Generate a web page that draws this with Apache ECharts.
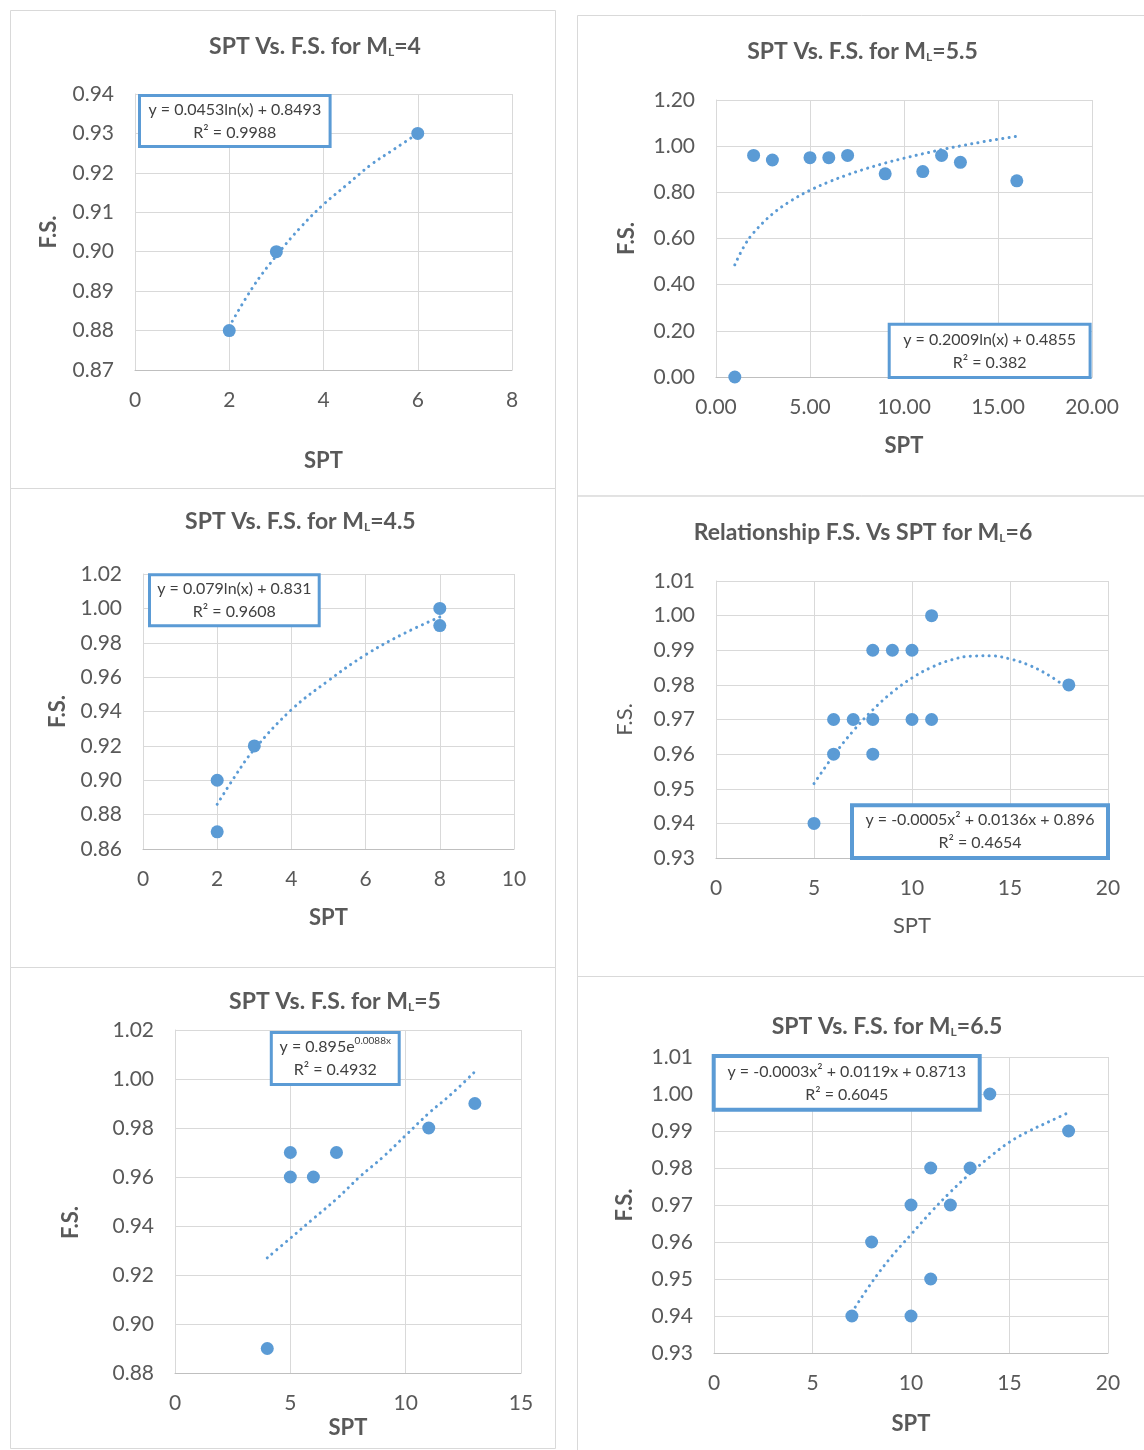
<!DOCTYPE html>
<html><head><meta charset="utf-8">
<script src="https://cdn.jsdelivr.net/npm/echarts@6/dist/echarts.min.js"></script>
<style>html,body{margin:0;padding:0;background:#fff}#c{width:1144px;height:1450px}</style>
</head><body><div id="c"></div>
<script>
// ---------- DATA ----------
const ml4SPT = [2, 3, 6];
const ml4FS  = [0.88, 0.90, 0.93];
const ml4TrendSPT = [2, 2.5, 3, 3.5, 4, 4.5, 5, 5.5, 6];
const ml4TrendFS  = [0.881, 0.891, 0.899, 0.906, 0.912, 0.917, 0.922, 0.926, 0.930];

const ml55SPT = [1, 2, 3, 5, 6, 7, 9, 11, 12, 13, 16];
const ml55FS  = [0.00, 0.96, 0.94, 0.95, 0.95, 0.96, 0.88, 0.89, 0.96, 0.93, 0.85];
const ml55TrendSPT = [1, 1.5, 2, 3, 4, 5, 6, 7, 8, 9, 10, 11, 12, 13, 14, 15, 16];
const ml55TrendFS  = [0.486, 0.567, 0.625, 0.706, 0.764, 0.809, 0.845, 0.876, 0.903, 0.927, 0.948, 0.967, 0.985, 1.001, 1.016, 1.030, 1.043];

const ml45SPT = [2, 2, 3, 8, 8];
const ml45FS  = [0.90, 0.87, 0.92, 1.00, 0.99];
const ml45TrendSPT = [2, 2.5, 3, 4, 5, 6, 7, 8];
const ml45TrendFS  = [0.886, 0.903, 0.918, 0.941, 0.958, 0.973, 0.985, 0.995];

const ml6SPT = [5, 6, 6, 7, 8, 8, 8, 9, 10, 10, 11, 11, 18];
const ml6FS  = [0.94, 0.97, 0.96, 0.97, 0.99, 0.97, 0.96, 0.99, 0.99, 0.97, 1.00, 0.97, 0.98];
const ml6TrendSPT = [5, 6, 7, 8, 9, 10, 11, 12, 13, 14, 15, 16, 17, 18];
const ml6TrendFS  = [0.9515, 0.9596, 0.9667, 0.9728, 0.9779, 0.9820, 0.9851, 0.9872, 0.9883, 0.9884, 0.9875, 0.9856, 0.9827, 0.9788];

const ml5SPT = [4, 5, 5, 6, 7, 11, 13];
const ml5FS  = [0.89, 0.97, 0.96, 0.96, 0.97, 0.98, 0.99];
const ml5TrendSPT = [4, 5, 6, 7, 8, 9, 10, 11, 12, 13];
const ml5TrendFS  = [0.927, 0.935, 0.943, 0.951, 0.960, 0.968, 0.977, 0.986, 0.994, 1.003];

const ml65SPT = [7, 8, 10, 10, 11, 11, 12, 13, 14, 18];
const ml65FS  = [0.94, 0.96, 0.97, 0.94, 0.98, 0.95, 0.97, 0.98, 1.00, 0.99];
const ml65TrendSPT = [7, 8, 9, 10, 11, 12, 13, 14, 15, 16, 17, 18];
const ml65TrendFS  = [0.941, 0.949, 0.956, 0.962, 0.968, 0.9735, 0.9785, 0.983, 0.987, 0.990, 0.9925, 0.995];

const titles = [
  'SPT Vs. F.S. for M{s|L}=4',
  'SPT Vs. F.S. for M{s|L}=5.5',
  'SPT Vs. F.S. for M{s|L}=4.5',
  'Relationship F.S. Vs SPT for M{s|L}=6',
  'SPT Vs. F.S. for M{s|L}=5',
  'SPT Vs. F.S. for M{s|L}=6.5'
];
const equations = [
  'y = 0.0453ln(x) + 0.8493\nR² = 0.9988',
  'y = 0.2009ln(x) + 0.4855\nR² = 0.382',
  'y = 0.079ln(x) + 0.831\nR² = 0.9608',
  'y = -0.0005x² + 0.0136x + 0.896\nR² = 0.4654',
  'y = 0.895e{p|0.0088x}\nR² = 0.4932',
  'y = -0.0003x² + 0.0119x + 0.8713\nR² = 0.6045'
];

// ---------- LAYOUT ----------
const FONT = 'Lato';
const BLUE = '#5B9BD5';
const GREY = '#595959';
const panels = [
  {spt: ml4SPT, fs: ml4FS, tx: ml4TrendSPT, ty: ml4TrendFS,
   g: [135, 94, 377, 276], x: [0, 8, 2, 0], y: [0.87, 0.94, 0.01, 2], xg: 80, yg: 75, bold: true,
   box: [139.5, 95.5, 190.6, 51, 3], tc: [315, 47]},
  {spt: ml55SPT, fs: ml55FS, tx: ml55TrendSPT, ty: ml55TrendFS,
   g: [716, 100, 376, 277], x: [0, 20, 5, 2], y: [0, 1.2, 0.2, 2], xg: 58, yg: 78, bold: true,
   box: [889.2, 324.2, 200.9, 53.3, 3], tc: [862.5, 51.7]},
  {spt: ml45SPT, fs: ml45FS, tx: ml45TrendSPT, ty: ml45TrendFS,
   g: [143, 574, 371, 275], x: [0, 10, 2, 0], y: [0.86, 1.02, 0.02, 2], xg: 58, yg: 74, bold: true,
   box: [149.5, 574.8, 169.7, 51, 3], tc: [300.4, 521.7]},
  {spt: ml6SPT, fs: ml6FS, tx: ml6TrendSPT, ty: ml6TrendFS,
   g: [716, 581, 392, 277], x: [0, 20, 5, 0], y: [0.93, 1.01, 0.01, 2], xg: 57, yg: 80, bold: false,
   box: [852, 805.3, 256, 52.7, 4], tc: [863, 533]},
  {spt: ml5SPT, fs: ml5FS, tx: ml5TrendSPT, ty: ml5TrendFS,
   g: [175, 1030, 346, 343], x: [0, 15, 5, 0], y: [0.88, 1.02, 0.02, 2], xg: 44, yg: 93, bold: true, yShift: 42,
   box: [271.3, 1032.5, 127.9, 52, 3], tc: [335, 1002]},
  {spt: ml65SPT, fs: ml65FS, tx: ml65TrendSPT, ty: ml65TrendFS,
   g: [714, 1057, 394, 296], x: [0, 20, 5, 0], y: [0.93, 1.01, 0.01, 2], xg: 60, yg: 78, bold: true,
   box: [713.7, 1056, 266, 53.7, 4], tc: [887, 1026.7]}
];

const zip = (a, b) => a.map((v, i) => [v, b[i]]);

const grids = [], xAxes = [], yAxes = [], series = [], graphics = [];

// panel frames
const frames = [[10.5, 10.5, 545, 478], [10.5, 488.5, 545, 479], [10.5, 967.5, 545, 481],
                [577.5, 15.5, 580, 480.5], [577.5, 496, 580, 480.5], [577.5, 976.5, 580, 490]];
frames.forEach(f => graphics.push({type: 'rect', z: 0, silent: true,
  shape: {x: f[0], y: f[1], width: f[2], height: f[3]},
  style: {fill: 'none', stroke: '#D9D9D9', lineWidth: 1}}));

panels.forEach((p, i) => {
  grids.push({left: p.g[0], top: p.g[1], width: p.g[2], height: p.g[3], containLabel: false, outerBoundsMode: 'none'});
  const nameStyle = {color: GREY, fontFamily: FONT, fontSize: 22, fontWeight: p.bold ? 'bold' : 'normal'};
  xAxes.push({type: 'value', gridIndex: i, min: p.x[0], max: p.x[1], interval: p.x[2],
    name: 'SPT', nameLocation: 'middle', nameGap: p.xg, nameTextStyle: nameStyle,
    axisLine: {show: true, lineStyle: {color: '#BFBFBF', width: 1}},
    axisTick: {show: false},
    axisLabel: {margin: 20, color: GREY, fontFamily: FONT, fontSize: 21, showMinLabel: true, showMaxLabel: true,
      formatter: v => v.toFixed(p.x[3])},
    splitLine: {show: true, lineStyle: {color: '#D9D9D9', width: 1}}});
  const yName = Object.assign({}, nameStyle);
  if (p.yShift) yName.padding = [0, p.yShift, 0, 0];
  yAxes.push({type: 'value', gridIndex: i, min: p.y[0], max: p.y[1], interval: p.y[2],
    name: 'F.S.', nameLocation: 'middle', nameGap: p.yg, nameTextStyle: yName,
    axisLine: {show: true, lineStyle: {color: '#D9D9D9', width: 1}},
    axisTick: {show: false},
    axisLabel: {margin: 21, color: GREY, fontFamily: FONT, fontSize: 21, showMinLabel: true, showMaxLabel: true,
      formatter: v => v.toFixed(p.y[3])},
    splitLine: {show: true, lineStyle: {color: '#D9D9D9', width: 1}}});
  series.push({type: 'scatter', xAxisIndex: i, yAxisIndex: i, data: zip(p.spt, p.fs),
    symbol: 'circle', symbolSize: 13, itemStyle: {color: BLUE, opacity: 1}, z: 2});
  series.push({type: 'line', xAxisIndex: i, yAxisIndex: i, data: zip(p.tx, p.ty),
    smooth: 0.4, symbol: 'none', showSymbol: false, silent: true,
    lineStyle: {color: BLUE, width: 3, type: [0.1, 6.2], cap: 'round'}, z: 3});
  // title
  graphics.push({type: 'text', x: p.tc[0], y: p.tc[1], z: 5,
    style: {text: titles[i], align: 'center', verticalAlign: 'middle', textAlign: 'center', textVerticalAlign: 'middle',
      fontSize: 23, fontFamily: FONT, fontWeight: 'bold', fill: GREY,
      rich: {s: {fontSize: 12, fontFamily: FONT, fontWeight: 'bold', fill: GREY, verticalAlign: 'bottom'}}}});
  // equation box
  const b = p.box;
  graphics.push({type: 'rect', z: 10, shape: {x: b[0], y: b[1], width: b[2], height: b[3]},
    style: {fill: '#ffffff', stroke: BLUE, lineWidth: b[4]}});
  graphics.push({type: 'text', z: 11, x: b[0] + b[2] / 2, y: b[1] + b[3] / 2,
    style: {text: equations[i], align: 'center', verticalAlign: 'middle', textAlign: 'center', textVerticalAlign: 'middle',
      fontSize: 16, fontFamily: FONT, fill: '#404040', lineHeight: 23,
      rich: {p: {fontSize: 10, fontFamily: FONT, fill: '#404040', verticalAlign: 'top', lineHeight: 10}}}});
});

const chart = echarts.init(document.getElementById('c'), null, {renderer: 'canvas'});
chart.setOption({
  animation: false,
  backgroundColor: '#ffffff',
  textStyle: {fontFamily: FONT},
  grid: grids, xAxis: xAxes, yAxis: yAxes, series: series, graphic: graphics
});
</script></body></html>
